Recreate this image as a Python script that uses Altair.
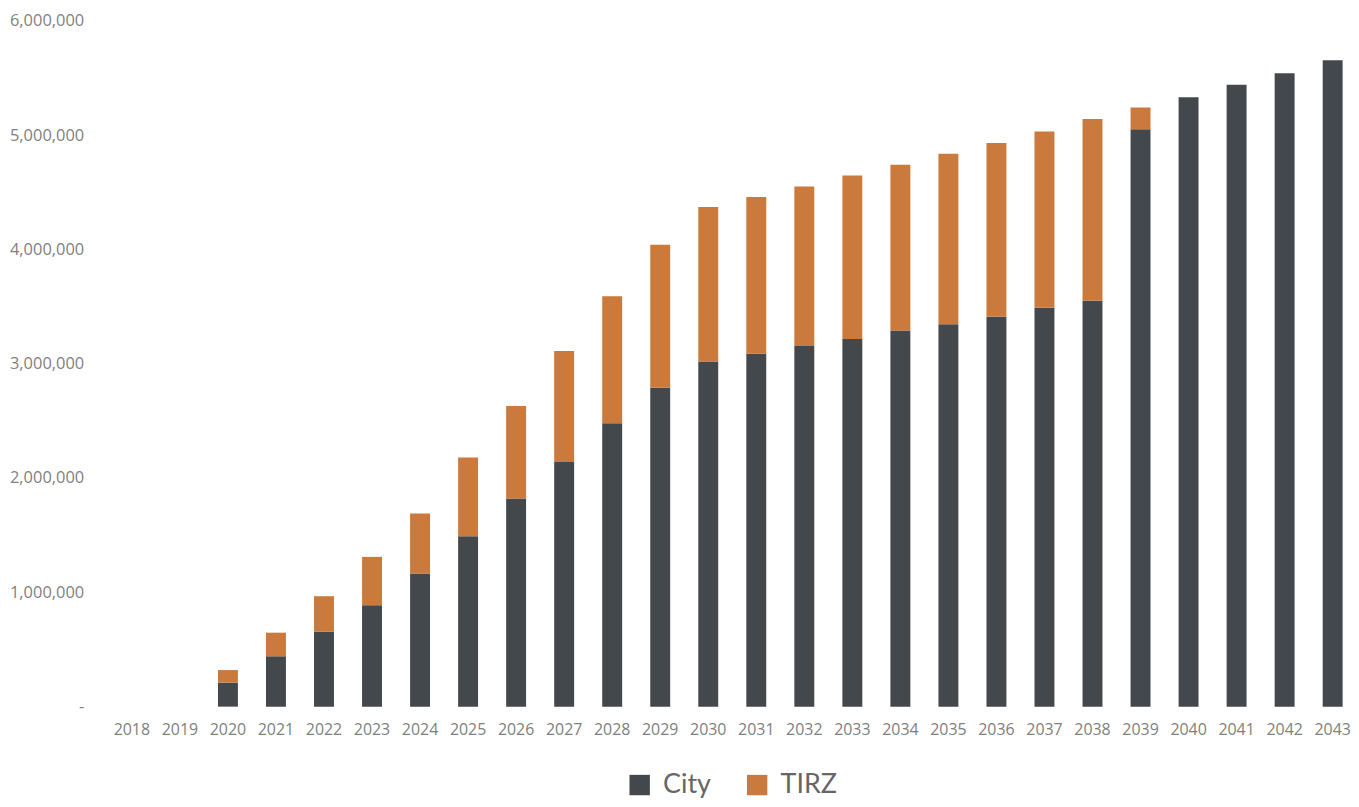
import altair as alt
import pandas as pd

years = [str(y) for y in range(2018, 2044)]
city = [0, 0, 210000, 440000, 655000, 888000, 1164000, 1490000, 1820000, 2140000,
        2480000, 2790000, 3020000, 3086000, 3155000, 3216000, 3290000, 3345000,
        3410000, 3490000, 3550000, 5050000, 5330000, 5440000, 5540000, 5655000]
total = [0, 0, 320000, 647000, 966000, 1310000, 1690000, 2180000, 2630000, 3110000,
         3590000, 4040000, 4370000, 4457000, 4550000, 4647000, 4740000, 4836000,
         4930000, 5030000, 5140000, 5240000, 5330000, 5440000, 5540000, 5655000]
tirz = [t - c for t, c in zip(total, city)]
series = ["City", "TIRZ"]
colors = ["#43484c", "#c97a3c"]
y_ticks = [0, 1000000, 2000000, 3000000, 4000000, 5000000, 6000000]

rows = []
for i, y in enumerate(years):
    rows.append({"Year": y, "Series": "City", "Value": city[i], "order": 0})
    rows.append({"Year": y, "Series": "TIRZ", "Value": tirz[i], "order": 1})
df = pd.DataFrame(rows)

chart = alt.Chart(df).mark_bar().encode(
    x=alt.X("Year:N", sort=years, title=None,
            scale=alt.Scale(paddingInner=0.585, paddingOuter=0.05),
            axis=alt.Axis(labelAngle=0, labelFontSize=16, labelColor="#808080",
                          labelFont="Open Sans", domain=False, ticks=False, labelPadding=15)),
    y=alt.Y("Value:Q", stack="zero", title=None,
            scale=alt.Scale(domain=[0, 6000000], nice=False),
            axis=alt.Axis(values=y_ticks,
                          labelExpr="datum.value == 0 ? '-' : format(datum.value, ',')",
                          labelFontSize=16.5, labelColor="#808080", labelFont="Open Sans",
                          domain=False, ticks=False, grid=False, labelPadding=36)),
    color=alt.Color("Series:N", scale=alt.Scale(domain=series, range=colors),
                    legend=alt.Legend(title=None, orient="none", direction="horizontal",
                                      legendX=509, legendY=754,
                                      symbolType="square", symbolSize=420,
                                      symbolStrokeWidth=0, labelFontSize=27,
                                      labelColor="#666666", labelFont="Lato",
                                      labelOffset=10, columnPadding=32)),
    order=alt.Order("order:Q", sort="ascending"),
).properties(
    width=1231, height=689, background="white",
    padding={"left": 1, "top": 3, "right": 0, "bottom": 0}
).configure_view(stroke=None, strokeWidth=0)

chart.save("out.html", embed_options={"renderer": "svg", "actions": False})
